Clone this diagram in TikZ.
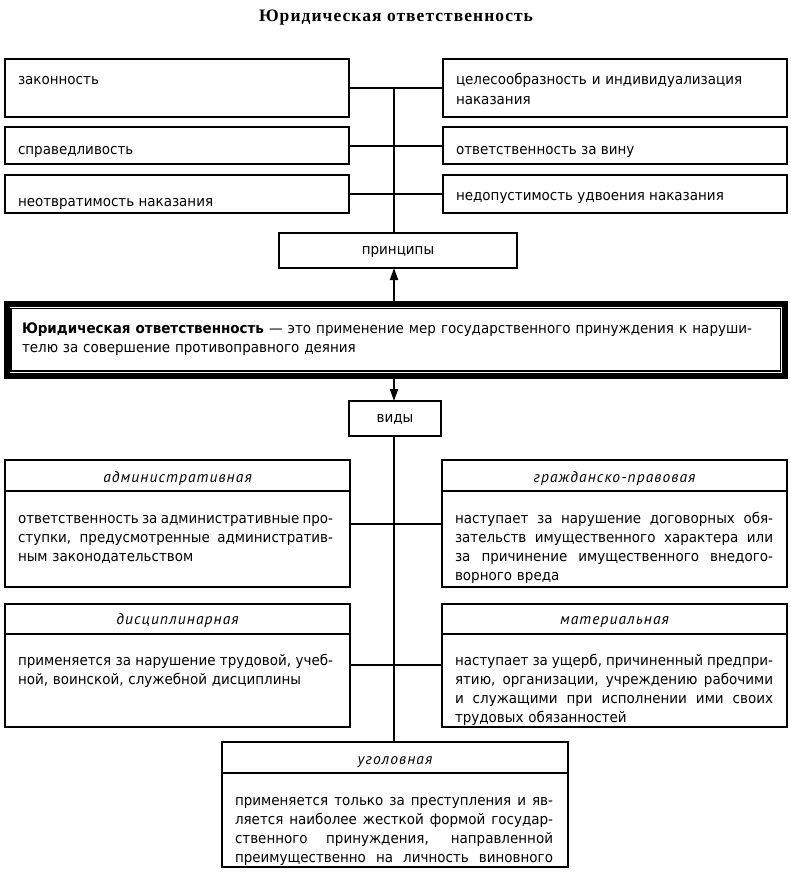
\documentclass[tikz,border=0pt]{standalone}
\usepackage{fontspec}
\setmainfont{DejaVu Sans}[FakeStretch=0.93]
\newfontfamily\hdrfont{PT Sans}[LetterSpace=7]
\newfontfamily\titlefont{Liberation Serif}[LetterSpace=6]
\usetikzlibrary{arrows.meta,calc}
\newcommand{\jl}[2][315pt]{\leavevmode{\spaceskip=0.3em plus 3em minus 0.12em\hbox to #1{#2}}}
\tikzset{
  box/.style={draw, line width=2pt, outer sep=0pt, inner sep=0pt},
  conn/.style={line width=2pt},
  arrowline/.style={line width=2pt, -{Triangle[length=12pt,width=8pt]}},
  txt/.style={inner sep=0pt, outer sep=0pt, anchor=base west, align=left,
    font=\fontsize{14.5}{19.3}\selectfont},
  ctxt/.style={inner sep=0pt, outer sep=0pt, anchor=base,
    font=\fontsize{14.5}{19.3}\selectfont},
  hdr/.style={inner sep=0pt, outer sep=0pt, anchor=base,
    font=\hdrfont\itshape\fontsize{15.5}{18}\selectfont},
  titletxt/.style={inner sep=0pt, outer sep=0pt, anchor=base,
    font=\titlefont\bfseries\fontsize{17.5}{20}\selectfont},
}
\begin{document}
\begin{tikzpicture}[x=1pt,y=-1pt]
\useasboundingbox (0,0) rectangle (791,872);
\coordinate (tr) at (394,0);
\node[titletxt] (title) at (396,22) {Юридическая ответственность};

% principles
\node[box, minimum width=344, minimum height=58] (p1) at (177,88) {};
\node[box, minimum width=344, minimum height=37] (p2) at (177,145.5) {};
\node[box, minimum width=344, minimum height=38] (p3) at (177,194) {};
\node[box, minimum width=344, minimum height=58] (q1) at (615,88) {};
\node[box, minimum width=344, minimum height=37] (q2) at (615,145.5) {};
\node[box, minimum width=344, minimum height=38] (q3) at (615,194) {};
\node[txt] (p1t) at (18,85) {законность};
\node[txt] (p2t) at (18,154) {справедливость};
\node[txt] (p3t) at (18,206) {неотвратимость наказания};
\node[txt, text width=320pt] (q1t) at (456,85) {целесообразность и индивидуализация\\наказания};
\node[txt] (q2t) at (456,154) {ответственность за вину};
\node[txt] (q3t) at (456,200) {недопустимость удвоения наказания};

\node[box, minimum width=238, minimum height=35] (pr) at (398,250.5) {};
\node[ctxt] (prt) at (398,254) {принципы};

% definition
\node[draw, line width=6pt, outer sep=0pt, inner sep=0pt,
  minimum width=778.5, minimum height=71.5] (def) at (395.75,339.75) {};
\draw[line width=1.2pt] ($(def.north west)+(4.5,4.5)$) rectangle ($(def.south east)+(-4.5,-4.5)$);
\node[txt, text width=730pt] (deft) at (22,333)
  {\jl[730pt]{\textbf{Юридическая ответственность} — это применение мер государственного принуждения к наруши-}\\телю за совершение противоправного деяния};

\node[box, minimum width=92, minimum height=35] (vid) at (395,418.5) {};
\node[ctxt] (vidt) at (395,422) {виды};

% types
\node[box, minimum width=345, minimum height=127] (adm) at (177.5,523.5) {};
\draw[conn] ($(adm.north west)+(0,30.5)$) -- ($(adm.north east)+(0,30.5)$);
\node[hdr] (admh) at (177.5,482) {административная};
\node[txt, text width=315pt] (admb) at (18,523)
  {\jl{ответственность за административные про-}\\\jl{ступки, предусмотренные административ-}\\ным законодательством};

\node[box, minimum width=345, minimum height=127] (civ) at (614.5,523.5) {};
\draw[conn] ($(civ.north west)+(0,30.5)$) -- ($(civ.north east)+(0,30.5)$);
\node[hdr] (civh) at (614.5,482) {гражданско-правовая};
\node[txt, text width=318pt] (civb) at (455,523)
  {\jl[318pt]{наступает за нарушение договорных обя-}\\\jl[318pt]{зательств имущественного характера или}\\\jl[318pt]{за причинение имущественного внедого-}\\ворного вреда};

\node[box, minimum width=345, minimum height=123.5] (dis) at (177.5,665.25) {};
\draw[conn] ($(dis.north west)+(0,30.5)$) -- ($(dis.north east)+(0,30.5)$);
\node[hdr] (dish) at (177.5,624) {дисциплинарная};
\node[txt, text width=315pt] (disb) at (18,665)
  {\jl{применяется за нарушение трудовой, учеб-}\\ной, воинской, служебной дисциплины};

\node[box, minimum width=345, minimum height=123.5] (mat) at (614.5,665.25) {};
\draw[conn] ($(mat.north west)+(0,30.5)$) -- ($(mat.north east)+(0,30.5)$);
\node[hdr] (math) at (614.5,624) {материальная};
\node[txt, text width=318pt] (matb) at (455,665)
  {\jl[318pt]{наступает за ущерб, причиненный предпри-}\\\jl[318pt]{ятию, организации, учреждению рабочими}\\\jl[318pt]{и служащими при исполнении ими своих}\\трудовых обязанностей};

\node[box, minimum width=346, minimum height=125] (cri) at (395,804.5) {};
\draw[conn] ($(cri.north west)+(0,30.5)$) -- ($(cri.north east)+(0,30.5)$);
\node[hdr] (crih) at (395,764) {уголовная};
\node[txt, text width=320pt] (crib) at (235,805)
  {\jl[318pt]{применяется только за преступления и яв-}\\\jl[318pt]{ляется наиболее жесткой формой государ-}\\\jl[318pt]{ственного принуждения, направленной}\\\jl[318pt]{преимущественно на личность виновного}};

% connectors
\draw[conn] (p1.east) -- (q1.west);
\draw[conn] (p2.east) -- (q2.west);
\draw[conn] (p3.east) -- (q3.west);
\draw[conn] (p1.east -| tr) -- (pr.north -| tr);
\draw[arrowline] (def.north -| tr) -- (pr.south -| tr);
\draw[arrowline] (def.south -| tr) -- (vid.north -| tr);
\draw[conn] (vid.south -| tr) -- (cri.north -| tr);
\draw[conn] (adm.east) -- (civ.west);
\draw[conn] (dis.east) -- (mat.west);
\end{tikzpicture}
\end{document}
